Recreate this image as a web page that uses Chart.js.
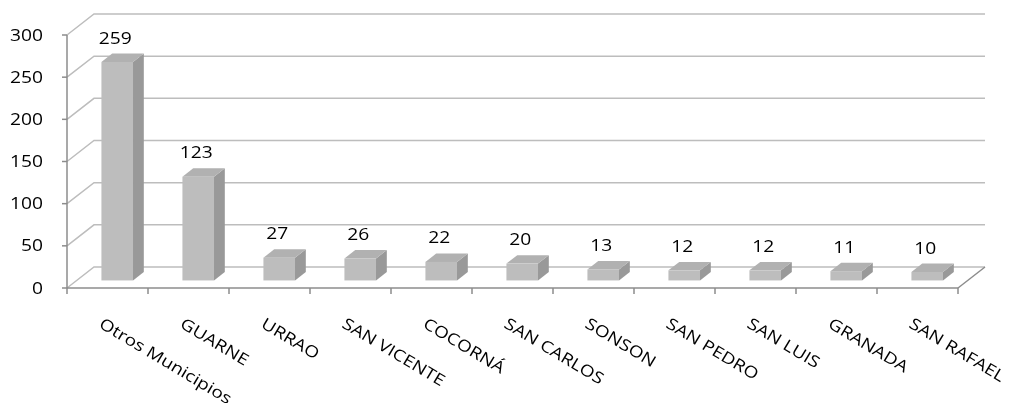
<!DOCTYPE html>
<html>
<head>
<meta charset="utf-8">
<script src="https://cdn.jsdelivr.net/npm/chart.js@4"></script>
<style>
  html, body { margin: 0; padding: 0; background: #fff; }
  #wrap { width: 1012px; height: 403px; }
</style>
</head>
<body>
<div id="wrap"><canvas id="grafiek"></canvas></div>
<script>
// datos del grafico
const municipios = ["Otros Municipios", "GUARNE", "URRAO", "SAN VICENTE", "COCORNÁ", "SAN CARLOS",
                    "SONSON", "SAN PEDRO", "SAN LUIS", "GRANADA", "SAN RAFAEL"];
const valores = [259, 123, 27, 26, 22, 20, 13, 12, 12, 11, 10];
const ticksY = [0, 50, 100, 150, 200, 250, 300];

// perspectiva 3D
const fondoX = 27, fondoY = -21;      // profundidad de la pared
const frenteBarra = 0.36, hondoBarra = 0.4;
const fuente = "16px 'Open Sans'";

function textoAncho(ctx, txt, x, y, sx, align) {
    ctx.save();
    ctx.translate(x, y);
    ctx.scale(sx, 1);
    ctx.textAlign = align;
    ctx.fillText(txt, 0, 0);
    ctx.restore();
}

const plugin3d = {
    id: "plugin3d",
    beforeDatasetsDraw(chart) {
        const ctx = chart.ctx;
        const area = chart.chartArea;
        const y = chart.scales.y;
        ctx.save();
        ctx.lineWidth = 1.5;
        // lineas de la pared del fondo
        ctx.strokeStyle = "#bdbdbd";
        ticksY.forEach(v => {
            const py = y.getPixelForValue(v);
            ctx.beginPath();
            ctx.moveTo(area.left, py);
            ctx.lineTo(area.left + fondoX, py + fondoY);
            ctx.lineTo(area.right + fondoX, py + fondoY);
            ctx.stroke();
        });
        // suelo
        const p0 = y.getPixelForValue(0);
        ctx.strokeStyle = "#8c8c8c";
        ctx.beginPath();
        ctx.moveTo(area.right, p0);
        ctx.lineTo(area.right + fondoX, p0 + fondoY);
        ctx.stroke();
        ctx.beginPath();
        ctx.moveTo(area.left, p0);
        ctx.lineTo(area.right, p0);
        ctx.stroke();
        // eje vertical
        ctx.beginPath();
        ctx.moveTo(area.left, y.getPixelForValue(300));
        ctx.lineTo(area.left, p0);
        ctx.stroke();
        // marcas del eje y
        ticksY.forEach(v => {
            const py = y.getPixelForValue(v);
            ctx.beginPath();
            ctx.moveTo(area.left - 5, py);
            ctx.lineTo(area.left, py);
            ctx.stroke();
        });
        // marcas del eje x
        const paso = (area.right - area.left) / municipios.length;
        for (let i = 0; i <= municipios.length; i++) {
            const px = area.left + paso * i;
            ctx.beginPath();
            ctx.moveTo(px, p0);
            ctx.lineTo(px, p0 + 6);
            ctx.stroke();
        }
        ctx.restore();
    },
    afterDatasetsDraw(chart) {
        const ctx = chart.ctx;
        const meta = chart.getDatasetMeta(0);
        const ox = fondoX * frenteBarra, oy = fondoY * frenteBarra;
        const dx = fondoX * hondoBarra, dy = fondoY * hondoBarra;
        ctx.save();
        meta.data.forEach((bar, i) => {
            const l = bar.x - bar.width / 2 + ox;
            const r = bar.x + bar.width / 2 + ox;
            const t = bar.y + oy;
            const b = bar.base + oy;
            // lado
            ctx.fillStyle = "#999999";
            ctx.beginPath();
            ctx.moveTo(r, t); ctx.lineTo(r + dx, t + dy);
            ctx.lineTo(r + dx, b + dy); ctx.lineTo(r, b);
            ctx.closePath(); ctx.fill();
            // tapa
            ctx.fillStyle = "#b1b1b1";
            ctx.beginPath();
            ctx.moveTo(l, t); ctx.lineTo(l + dx, t + dy);
            ctx.lineTo(r + dx, t + dy); ctx.lineTo(r, t);
            ctx.closePath(); ctx.fill();
            // frente
            ctx.fillStyle = "#bdbdbd";
            ctx.fillRect(l, t, r - l, b - t);
            // etiqueta del valor
            ctx.fillStyle = "#000";
            ctx.font = fuente;
            ctx.textBaseline = "middle";
            textoAncho(ctx, String(valores[i]), (l + r) / 2 - 2, t - 23, 1.2, "center");
        });
        ctx.restore();
    },
    afterDraw(chart) {
        const ctx = chart.ctx;
        const area = chart.chartArea;
        const y = chart.scales.y;
        const x = chart.scales.x;
        ctx.save();
        ctx.fillStyle = "#000";
        ctx.font = fuente;
        ctx.textBaseline = "middle";
        ticksY.forEach(v => {
            textoAncho(ctx, String(v), area.left - 24, y.getPixelForValue(v) + 1, 1.2, "right");
        });
        // etiquetas inclinadas
        ctx.textBaseline = "top";
        municipios.forEach((m, i) => {
            const px = x.getPixelForValue(i) - 3;
            ctx.save();
            ctx.translate(px, y.getPixelForValue(0) + 28);
            ctx.rotate(31 * Math.PI / 180);
            ctx.scale(1.19, 1);
            ctx.textAlign = "left";
            ctx.fillText(m, 0, 0);
            ctx.restore();
        });
        ctx.restore();
    }
};

new Chart(document.getElementById("grafiek").getContext("2d"), {
    type: "bar",
    data: {
        labels: municipios,
        datasets: [{
            data: valores,
            backgroundColor: "rgba(0,0,0,0)",
            categoryPercentage: 1,
            barPercentage: 0.39
        }]
    },
    options: {
        responsive: true,
        maintainAspectRatio: false,
        animation: false,
        layout: { padding: { left: 67, right: 54, top: 35, bottom: 115 } },
        scales: {
            x: { display: false },
            y: { display: false, min: 0, max: 300 }
        },
        plugins: {
            legend: { display: false },
            tooltip: { enabled: false }
        }
    },
    plugins: [plugin3d]
});
</script>
</body>
</html>
